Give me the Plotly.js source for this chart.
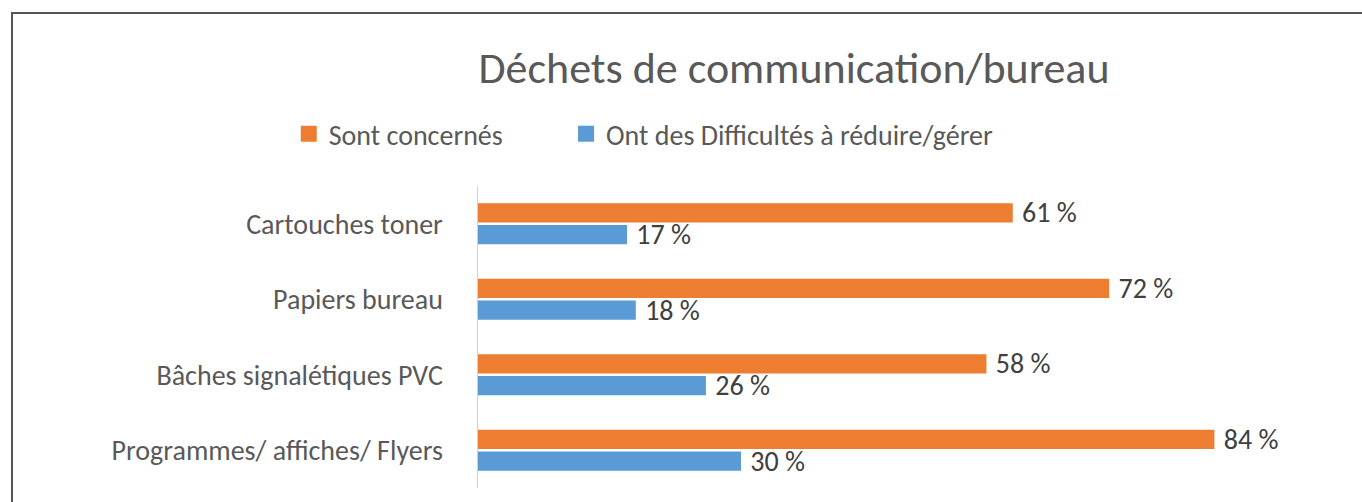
<!DOCTYPE html>
<html>
<head>
<meta charset="utf-8">
<script src="https://cdn.plot.ly/plotly-3.0.1.min.js"></script>
<style>
  html, body { margin: 0; padding: 0; background: #fff; }
  #chart { position: absolute; left: 0; top: 0; width: 1362px; height: 502px; }
  /* frame of the original figure: top and left edges only */
  #frame { position: absolute; left: 11px; top: 12px; width: 1360px; height: 500px;
    border-top: 2px solid #555; border-left: 2px solid #555; pointer-events: none; }
</style>
</head>
<body>
<div id="chart"></div>
<div id="frame"></div>
<script>
// ---- data ------------------------------------------------------------------
const categories = ['Cartouches toner', 'Papiers bureau', 'Bâches signalétiques PVC', 'Programmes/ affiches/ Flyers'];
const concernes = [61, 72, 58, 84];
const difficultes = [17, 18, 26, 30];
const seriesNames = ['Sont concernés', 'Ont des Difficultés à réduire/gérer'];

const ORANGE = '#ED7D31', BLUE = '#5B9BD5';
const FONT = 'Carlito, Lato, sans-serif';

// nbsp in front pushes the label a little off the bar end, like Excel does
const pct = (v) => '\u00a0' + v + ' %';

function bar(vals, name, color) {
  return {
    type: 'bar', orientation: 'h', x: vals, y: categories, name,
    marker: { color }, text: vals.map(pct), textposition: 'outside', constraintext: 'none',
    textfont: { color: '#404040', size: 28, family: FONT },
    cliponaxis: false, showlegend: false, hoverinfo: 'skip',
  };
}
// legend entries (larger square swatches than the bar icons); each in its own
// legend box so the wide Excel-style spacing between them can be reproduced
function swatch(name, color, legend) {
  return { type: 'scatter', mode: 'markers', x: [null], y: [null], name, legend,
    marker: { symbol: 'square', size: 16, color }, showlegend: true, hoverinfo: 'skip' };
}

const traces = [
  bar(concernes, seriesNames[0], ORANGE),
  bar(difficultes, seriesNames[1], BLUE),
  swatch(seriesNames[0], ORANGE, 'legend'),
  swatch(seriesNames[1], BLUE, 'legend2'),
];

const legendBase = { orientation: 'h', xref: 'container', yref: 'container', xanchor: 'left',
  y: 0.733, yanchor: 'middle', font: { size: 28, color: '#595959' }, itemclick: false };

const layout = {
  width: 1362, height: 502,
  paper_bgcolor: 'rgba(0,0,0,0)', plot_bgcolor: 'rgba(0,0,0,0)',
  font: { family: FONT, color: '#595959' },
  margin: { l: 478, r: 95, t: 186, b: 14 },
  title: { text: 'Déchets de communication/bureau', font: { size: 44, color: '#595959' },
    xref: 'container', x: 0.583, xanchor: 'center', yref: 'container', y: 0.865, yanchor: 'middle' },
  barmode: 'group', bargap: 0.42, bargroupgap: 0.12,
  showlegend: true,
  legend: { ...legendBase, x: 0.212 },
  legend2: { ...legendBase, x: 0.4156 },
  xaxis: { range: [0, 90], showgrid: false, zeroline: false, showticklabels: false, showline: false },
  yaxis: { autorange: 'reversed', showline: true, linecolor: '#d0d0d0', linewidth: 1.5,
    ticks: '', ticklabelstandoff: 28, tickfont: { size: 28, color: '#595959' }, showgrid: false },
};

Plotly.newPlot('chart', traces, layout, { displayModeBar: false, staticPlot: true });
</script>
</body>
</html>
